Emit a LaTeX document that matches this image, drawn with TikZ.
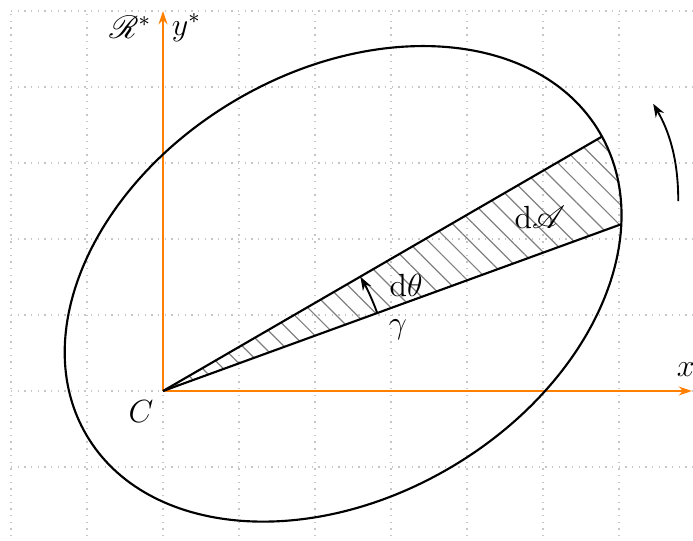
\documentclass[tikz,border=0pt]{standalone}
\usepackage{mathrsfs}
\usetikzlibrary{arrows.meta,intersections,patterns.meta}
\tikzset{
  gridline/.style={gray!45, dotted, line width=0.5pt},
  axis/.style={orange, line width=0.6pt, -{Stealth[length=5pt,width=3.4pt]}},
  curve/.style={black, line width=0.8pt},
  arr/.style={black, line width=0.7pt, -{Stealth[length=5pt,width=3.6pt]}},
  lbl/.style={inner sep=1pt, font=\large},
  ellshape/.style={shift={(2.37,1.41)}, rotate=30.6}
}
\begin{document}
\begin{tikzpicture}
\useasboundingbox (-2.145,-1.961) rectangle (6.974,5.145);
\draw[gridline] (-2,-2) grid (7,5);
\coordinate (C) at (0,0);
\coordinate (ytop) at (0,5);
\coordinate (xend) at (6.96,0);
\draw[axis] (C) -- (ytop);
\draw[axis] (C) -- (xend);
% hatched sector
\begin{scope}
  \clip[ellshape] (0,0) ellipse (3.92 and 2.8);
  \fill[pattern={Lines[angle=-45,distance=5.5pt,line width=0.45pt]}, pattern color=gray] (C) -- (20:9) -- (30.1:9) -- cycle;
\end{scope}
\draw[curve, name path=ell, ellshape] (0,0) ellipse (3.92 and 2.8);
\path[name path=ray1] (C) -- (20:9);
\path[name path=ray2] (C) -- (30.1:9);
\path[name intersections={of=ell and ray1, by={P1}}];
\path[name intersections={of=ell and ray2, by={P2}}];
\draw[curve] (C) -- (P1);
\draw[curve] (C) -- (P2);
\coordinate (A1) at (20:3);
\coordinate (A2) at (30:3);
\draw[arr] (A1) arc[start angle=20, end angle=30, radius=3];
\coordinate (R1) at (6.78,2.5);
\coordinate (R2) at (6.45,3.78);
\draw[arr] (R1) .. controls (6.78,3.05) and (6.66,3.42) .. (R2);
% labels
\node[lbl] (lR) at (-0.43,4.79) {$\mathscr{R}^*$};
\node[lbl] (ly) at (0.31,4.78) {$y^*$};
\node[lbl] (lx) at (6.88,0.28) {$x$};
\node[lbl] (lC) at (-0.29,-0.27) {$C$};
\node[lbl] (ldt) at (3.2,1.39) {$\mathrm{d}\theta$};
\node[lbl] (ldA) at (4.96,2.28) {$\mathrm{d}\mathscr{A}$};
\node[lbl] (lr) at (3.09,0.8) {$\gamma$};
\end{tikzpicture}
\end{document}
